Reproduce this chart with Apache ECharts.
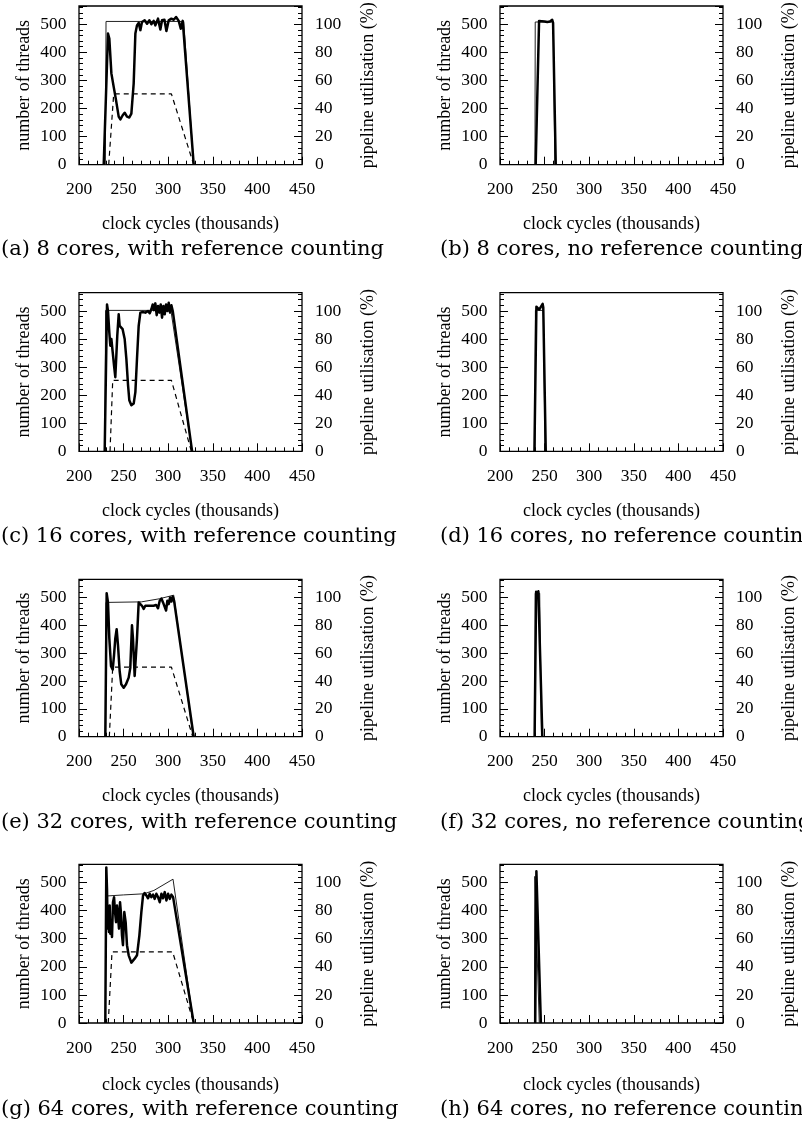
<!DOCTYPE html>
<html>
<head>
<meta charset="utf-8">
<script src="https://cdn.jsdelivr.net/npm/echarts@6/dist/echarts.min.js"></script>
<style>
html,body{margin:0;padding:0;background:#fff;}
#c{width:802px;height:1133px;}
</style>
</head>
<body>
<div id="c"></div>
<script>
// ---------- data (x in thousands of clock cycles) ----------
const xTickLabels = [200, 250, 300, 350, 400, 450];
const leftTickLabels = [0, 100, 200, 300, 400, 500];
const rightTickLabels = [0, 20, 40, 60, 80, 100];

const captions = [
  "(a) 8 cores, with reference counting",
  "(b) 8 cores, no reference counting",
  "(c) 16 cores, with reference counting",
  "(d) 16 cores, no reference counting",
  "(e) 32 cores, with reference counting",
  "(f) 32 cores, no reference counting",
  "(g) 64 cores, with reference counting",
  "(h) 64 cores, no reference counting"
];

// thin line: number of threads
const threadsA = [[229.5,0],[230.3,510],[317.4,510],[328.6,0]];
const threadsB = [[239.2,0],[239.5,508],[259.8,508],[261.5,0]];
const threadsC = [[229,0],[229.8,502],[303,502],[326.8,0]];
const threadsD = [[239.2,0],[239.7,502],[248.7,502],[250.5,0]];
const threadsE = [[229.8,0],[230.3,482],[270,484],[290,495],[306.2,508],[328,0]];
const threadsF = [[239.2,0],[239.5,515],[244.5,515],[246.5,0]];
const threadsG = [[229.5,0],[230.2,452],[250,456],[273,460],[284,472],[305.4,512],[328.5,0]];
const threadsH = [[238.6,0],[239,522],[241,522],[244,0]];

// dashed line: threads (second count)
const dashedA = [[233.3,0],[238.9,252],[303.6,252],[328.6,0]];
const dashedC = [[234.8,0],[237.8,253],[303.6,253],[326,0]];
const dashedE = [[234,0],[237.8,250],[303.6,250],[327.5,0]];
const dashedG = [[232.8,0],[237,253],[305,253],[328.6,0]];

// thick line: pipeline utilisation (%)
const utilA = [[227.7,0],[232.5,93.4],[234,89.8],[236.3,65],[238.9,55.4],[241.5,46],[244.5,34.2],[246.4,32.2],[249,35.2],[251.2,37],[253.8,34.2],[256.4,33.6],[258.7,36.4],[261.3,57.8],[263.2,93.4],[265,99.2],[266.9,101],[268.8,95.8],[270.6,101.6],[273.6,102.8],[276.3,100.4],[278.9,102.8],[281.1,100],[283.7,102.4],[285.6,99.2],[288.6,104],[291.2,96.2],[293.1,102.8],[295.8,103.2],[298,95.2],[300.6,102.8],[303.6,104],[306.2,103.2],[308.8,105.2],[311.8,102.4],[314.1,96.8],[316.3,102.4],[317.8,102.4],[328.6,0]];
const utilB = [[240,0],[243.8,102.4],[246,102.8],[250,102],[253,101.6],[256,102],[258.5,103.2],[259.5,101],[262.5,0]];
const utilC = [[228.8,0],[231.4,104.6],[232.5,100],[234,84.6],[235.1,75.2],[236.3,80],[237.8,70.4],[239.3,61],[240.7,52.8],[241.8,54],[242.9,82.2],[244.5,97.6],[245.6,89.4],[247.4,89.4],[248.9,87],[251.2,80],[253.1,65.8],[255,47],[256.4,36.4],[258.7,32.8],[261.3,34],[263.2,42.2],[265,65.8],[266.9,89.4],[268.8,98.8],[271.4,99.2],[274.4,98.8],[277.4,100],[279.3,98.4],[281.1,101.2],[282.6,104.6],[284.1,100.6],[285.6,105.4],[287.1,97],[288.6,103.6],[290.1,98.8],[291.6,104.6],[293.1,95.2],[294.6,103.6],[296.1,97.6],[297.6,104.6],[299.1,100],[300.6,105.8],[302.1,98.8],[303.6,104],[305.1,100],[326.8,0]];
const utilD = [[238.6,0],[240.8,103],[242.5,103.6],[244,101],[246,102.4],[247.8,105],[248.5,102.4],[251.3,0]];
const utilE = [[229.5,0],[231,103],[232.5,96.4],[234,70.6],[235.9,50.6],[237.8,48.2],[239.3,58.8],[240.7,70.6],[242.2,77.2],[243.7,65.8],[245.6,47],[247.4,37.6],[250.1,35.2],[252.7,37.6],[255.7,42.4],[257.5,49.4],[259.4,80],[260.5,70.6],[262.4,43.6],[263.9,42.4],[265,70.6],[266.9,96.4],[268.8,97.6],[270.6,94],[272.5,91.8],[274.4,94],[276.3,95.2],[278.9,94],[281.1,95.2],[283.7,94],[286.4,94.6],[288.6,92.2],[290.5,97.6],[292.4,99.2],[294.2,96.4],[296.1,95.2],[297.6,90.6],[299.1,97.6],[300.6,95.2],[302.1,100],[303.6,97],[305.1,100.6],[306.6,97.6],[328.6,0]];
const utilF = [[238.8,0],[240.5,104],[241.5,101],[243,104.4],[244,105],[247.5,0]];
const utilG = [[229.5,0],[230.6,110.8],[231.4,95.6],[232.1,67.2],[232.9,77.8],[233.6,64.8],[234.4,83.6],[235.1,63.6],[235.9,69.4],[237,61.2],[238.1,86],[239.3,89.6],[240.4,79],[241.5,71.8],[242.6,83.6],[243.7,76.6],[244.8,67.2],[246,86],[247.1,77.8],[248.2,62.4],[249.3,55.4],[250.8,79],[252.3,71.8],[253.8,55.4],[255.7,48.2],[258.7,43],[262.4,45.8],[265,48.2],[267.7,62.4],[269.9,79],[271.8,90.8],[273.6,92.6],[275.5,90.8],[277.4,88.8],[279.3,92],[281.1,89.6],[283,91.4],[284.8,88.4],[286.7,92],[288.6,89.6],[290.5,86],[292.4,92],[294.2,88.8],[296.1,93.2],[298,87.2],[299.9,92],[301.8,88.4],[303.6,91.4],[305.5,89.6],[328.6,0]];
const utilH = [[239.5,0],[240.8,108],[242.3,108],[245.8,0]];

// ---------- layout ----------
const panels = [
  {thin: threadsA, thick: utilA, dash: dashedA},
  {thin: threadsB, thick: utilB, dash: null},
  {thin: threadsC, thick: utilC, dash: dashedC},
  {thin: threadsD, thick: utilD, dash: null},
  {thin: threadsE, thick: utilE, dash: dashedE},
  {thin: threadsF, thick: utilF, dash: null},
  {thin: threadsG, thick: utilG, dash: dashedG},
  {thin: threadsH, thick: utilH, dash: null}
];
const colLeft = [79, 500];
const rowTop = [6, 292.7, 579.3, 864.3];
const rowH = [158.7, 158.6, 157.4, 158.7];
const nameGaps = [51, 51, 51, 53];
const capOffset = [233, 233, 233, 235];
const plotW = 223;

const serif = 'Liberation Serif';
const labelStyle = {fontFamily: serif, fontSize: 17.5, color: '#000'};

const grids = [], xAxes = [], yAxes = [], series = [], graphics = [];

panels.forEach((p, i) => {
  const row = Math.floor(i / 2), col = i % 2;
  grids.push({left: colLeft[col], top: rowTop[row], width: plotW, height: rowH[row],
    show: true, borderColor: '#000', borderWidth: 1.3, backgroundColor: 'transparent', containLabel: false});
  xAxes.push({
    type: 'value', gridIndex: i, min: xTickLabels[0], max: xTickLabels[xTickLabels.length-1], interval: 50,
    axisLine: {show: false},
    axisTick: {show: true, inside: true, length: 8, lineStyle: {color: '#000', width: 1}},
    minorTick: {show: true, splitNumber: 5, length: 4, lineStyle: {color: '#000', width: 1}},
    splitLine: {show: false}, minorSplitLine: {show: false},
    axisLabel: Object.assign({margin: 16}, labelStyle),
    name: 'clock cycles (thousands)', nameLocation: 'middle', nameGap: nameGaps[row],
    nameTextStyle: {fontFamily: serif, fontSize: 18, color: '#000'}
  });
  yAxes.push({
    type: 'value', gridIndex: i, position: 'left', min: 0, max: 565, interval: 100,
    axisLine: {show: false},
    axisTick: {show: true, inside: true, length: 8, lineStyle: {color: '#000', width: 1}},
    minorTick: {show: true, splitNumber: 5, length: 4, lineStyle: {color: '#000', width: 1}},
    splitLine: {show: false}, minorSplitLine: {show: false},
    axisLabel: Object.assign({margin: 12.5, formatter: v => leftTickLabels.indexOf(v) >= 0 ? String(v) : ''}, labelStyle),
    name: 'number of threads', nameLocation: 'middle', nameGap: 46, nameRotate: 90,
    nameTextStyle: {fontFamily: serif, fontSize: 18, color: '#000'}
  });
  yAxes.push({
    type: 'value', gridIndex: i, position: 'right', min: 0, max: 113, interval: 20,
    axisLine: {show: false},
    axisTick: {show: true, inside: true, length: 8, lineStyle: {color: '#000', width: 1}},
    minorTick: {show: true, splitNumber: 5, length: 4, lineStyle: {color: '#000', width: 1}},
    splitLine: {show: false}, minorSplitLine: {show: false},
    axisLabel: Object.assign({margin: 13, formatter: v => rightTickLabels.indexOf(v) >= 0 ? String(v) : ''}, labelStyle),
    name: 'pipeline utilisation (%)', nameLocation: 'middle', nameGap: 57, nameRotate: 90,
    nameTextStyle: {fontFamily: serif, fontSize: 18, color: '#000'}
  });
  series.push({type: 'line', xAxisIndex: i, yAxisIndex: 2*i, data: p.thin, showSymbol: false,
    lineStyle: {color: '#222', width: 1}, z: 2});
  if (p.dash) series.push({type: 'line', xAxisIndex: i, yAxisIndex: 2*i, data: p.dash, showSymbol: false,
    lineStyle: {color: '#000', width: 1.2, type: [5, 4]}, z: 3});
  series.push({type: 'line', xAxisIndex: i, yAxisIndex: 2*i+1, data: p.thick, showSymbol: false,
    lineStyle: {color: '#000', width: 2.5, join: 'round'}, z: 4});
  graphics.push({type: 'text', left: col === 0 ? 1 : 440, top: rowTop[row] + capOffset[row],
    style: {text: captions[i], font: '21px "DejaVu Serif"', fill: '#000'}});
});

const chart = echarts.init(document.getElementById('c'), null, {renderer: 'canvas'});
chart.setOption({
  animation: false,
  backgroundColor: '#fff',
  grid: grids, xAxis: xAxes, yAxis: yAxes, series: series, graphic: graphics
});
</script>
</body>
</html>
